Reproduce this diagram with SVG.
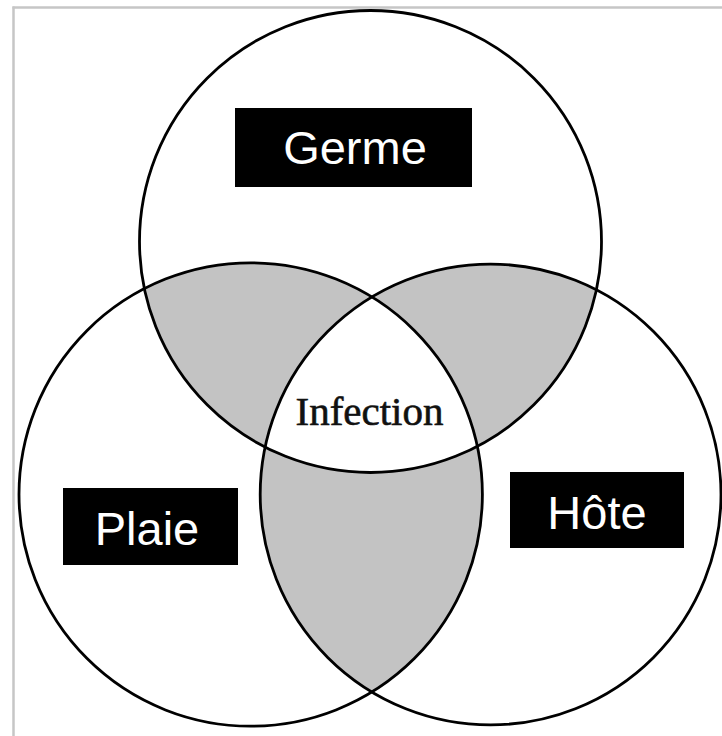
<svg xmlns="http://www.w3.org/2000/svg" width="722" height="736" viewBox="0 0 722 736">
<style>
.c{fill:none;stroke:#000;stroke-width:2.8}
.sh{fill:#c3c3c3}
.box{fill:#000}
.lbl{font-family:"Liberation Sans",Arial,sans-serif;font-size:47px;fill:#fff;text-anchor:middle}
.inf{font-family:"Liberation Serif","Times New Roman",serif;font-size:41px;fill:#111;stroke:#111;stroke-width:0.6;text-anchor:middle}
</style>
<defs>
<clipPath id="cT"><circle cx="370.5" cy="241.5" r="231"/></clipPath>
<clipPath id="cL"><circle cx="250.7" cy="494.5" r="231.7"/></clipPath>
<clipPath id="cR"><circle cx="490.6" cy="494.5" r="230.4"/></clipPath>
</defs>
<rect width="722" height="736" fill="#fff"/>
<g id="frame" stroke="#c6c6c6" stroke-width="2.5" fill="none">
<line x1="12.5" y1="7.5" x2="722" y2="7.5"/>
<line x1="13.5" y1="6.5" x2="13.5" y2="736"/>
</g>
<g id="shading">
<g clip-path="url(#cT)"><circle class="sh" cx="250.7" cy="494.5" r="231.7"/></g>
<g clip-path="url(#cT)"><circle class="sh" cx="490.6" cy="494.5" r="230.4"/></g>
<g clip-path="url(#cL)"><circle class="sh" cx="490.6" cy="494.5" r="230.4"/></g>
<g clip-path="url(#cT)"><g clip-path="url(#cL)"><circle fill="#fff" cx="490.6" cy="494.5" r="230.4"/></g></g>
</g>
<g id="germe">
<circle class="c" cx="370.5" cy="241.5" r="231"/>
<rect class="box" x="235" y="108" width="237" height="79"/>
<text class="lbl" x="355" y="164">Germe</text>
</g>
<g id="plaie">
<circle class="c" cx="250.7" cy="494.5" r="231.7"/>
<rect class="box" x="63" y="488" width="175" height="77"/>
<text class="lbl" x="147" y="545">Plaie</text>
</g>
<g id="hote">
<circle class="c" cx="490.6" cy="494.5" r="230.4"/>
<rect class="box" x="510" y="472" width="174" height="76"/>
<text class="lbl" x="597" y="529">Hôte</text>
</g>
<g id="infection">
<text class="inf" x="369.5" y="425">Infection</text>
</g>
<g id="connectors"/>
</svg>
